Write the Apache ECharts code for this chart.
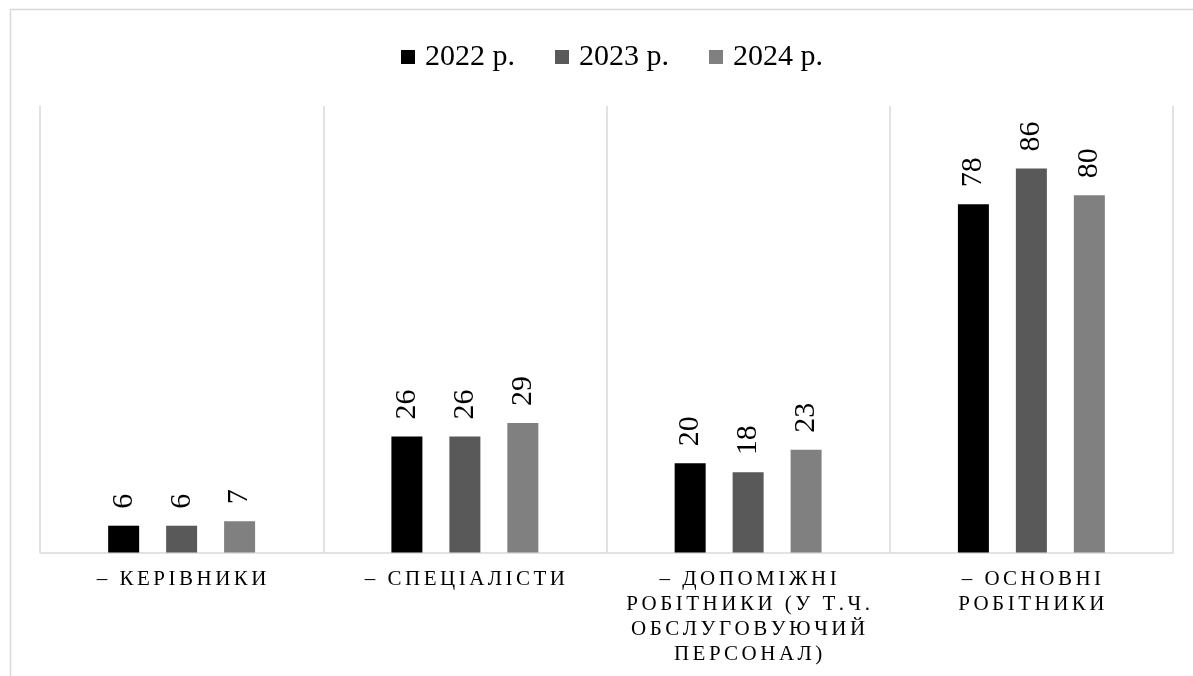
<!DOCTYPE html>
<html>
<head>
<meta charset="utf-8">
<title>Структура персоналу</title>
<script src="https://cdn.jsdelivr.net/npm/echarts@6/dist/echarts.min.js"></script>
<style>
  html, body { margin: 0; padding: 0; background: #ffffff; }
  #chart { width: 1193px; height: 676px; }
</style>
</head>
<body>
<div id="chart"></div>
<script>
// Categories of staff (line breaks as they should wrap under the axis)
const categories = [
  '– КЕРІВНИКИ',
  '– СПЕЦІАЛІСТИ',
  '– ДОПОМІЖНІ\nРОБІТНИКИ (У Т.Ч.\nОБСЛУГОВУЮЧИЙ\nПЕРСОНАЛ)',
  '– ОСНОВНІ\nРОБІТНИКИ'
];
const seriesNames = ['2022 р.', '2023 р.', '2024 р.'];
const values2022 = [6, 26, 20, 78];
const values2023 = [6, 26, 18, 86];
const values2024 = [7, 29, 23, 80];
const seriesColors = ['#000000', '#595959', '#808080'];

const serif = 'Liberation Serif';

// Spread letters apart with narrow spaces for the axis captions
function spaced(text) {
  return text.split('\n').map(line =>
    Array.from(line).join('\u2006')
  ).join('\n');
}

const chart = echarts.init(document.getElementById('chart'));

const makeSeries = (name, data, color) => ({
  name: name,
  type: 'bar',
  data: data,
  barWidth: 31,
  barGap: '87%',
  itemStyle: { color: color },
  label: {
    show: true,
    position: 'top',
    distance: 17,
    rotate: 90,
    align: 'left',
    verticalAlign: 'middle',
    color: '#000000',
    fontFamily: serif,
    fontSize: 30
  }
});

chart.setOption({
  animation: false,
  backgroundColor: '#ffffff',
  textStyle: { fontFamily: serif },
  graphic: [{
    type: 'rect',
    shape: { x: 10.5, y: 9.5, width: 1300, height: 800 },
    style: { fill: 'none', stroke: '#d9d9d9', lineWidth: 1.5 },
    silent: true,
    z: -10
  }],
  legend: {
    left: 401,
    top: 42,
    padding: 0,
    itemWidth: 14,
    itemHeight: 14,
    itemGap: 40,
    icon: 'rect',
    textStyle: {
      fontFamily: serif,
      fontSize: 30,
      color: '#000000',
      padding: [0, 0, 0, 5]
    },
    data: seriesNames
  },
  grid: {
    left: 40,
    right: 20,
    top: 106,
    bottom: 123.5,
    containLabel: false
  },
  xAxis: {
    type: 'category',
    data: categories,
    boundaryGap: true,
    axisLine: { show: true, lineStyle: { color: '#d9d9d9', width: 1.5 } },
    axisTick: { show: false },
    splitLine: { show: true, lineStyle: { color: '#d9d9d9', width: 1.5 } },
    axisLabel: {
      interval: 0,
      margin: 14,
      fontFamily: serif,
      fontSize: 21,
      lineHeight: 25,
      color: '#000000',
      align: 'center',
      formatter: (v) => spaced(v)
    }
  },
  yAxis: {
    type: 'value',
    min: 0,
    max: 100,
    interval: 20,
    show: true,
    axisLine: { show: false },
    axisTick: { show: false },
    axisLabel: { show: false },
    splitLine: { show: false }
  },
  series: [
    makeSeries(seriesNames[0], values2022, seriesColors[0]),
    makeSeries(seriesNames[1], values2023, seriesColors[1]),
    makeSeries(seriesNames[2], values2024, seriesColors[2])
  ]
});
</script>
</body>
</html>
